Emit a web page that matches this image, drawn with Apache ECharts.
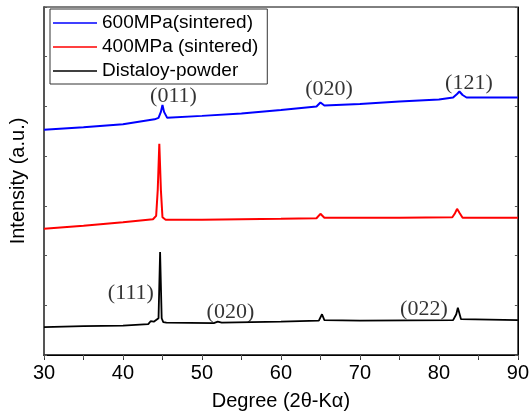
<!DOCTYPE html>
<html>
<head>
<meta charset="utf-8">
<script src="https://cdn.jsdelivr.net/npm/echarts@6/dist/echarts.min.js"></script>
<style>
	html, body { margin: 0; padding: 0; background: #fff; }
	#chart { width: 532px; height: 418px; }
</style>
</head>
<body>
<div id="chart"></div>
<script>
// 2θ (deg), intensity (a.u., offset)
var sintered600 = [
	[30, 4.53], [35, 4.58], [40, 4.64], [44.0, 4.74], [44.5, 4.77], [44.8, 4.89], [45.0, 5.03],
	[45.2, 4.89], [45.6, 4.77], [50, 4.81], [55, 4.86], [60, 4.93], [64.5, 5.00], [65.0, 5.08],
	[65.5, 5.02], [70, 5.05], [75, 5.10], [80, 5.14], [81.8, 5.18], [82.3, 5.25], [82.6, 5.30],
	[83.0, 5.23], [83.5, 5.18], [86, 5.18], [90, 5.18]
];
var sintered400 = [
	[30, 2.54], [35, 2.60], [40, 2.67], [43.8, 2.73], [44.2, 2.80], [44.4, 3.32], [44.6, 4.25],
	[44.8, 3.32], [45.0, 2.77], [45.4, 2.72], [50, 2.72], [55, 2.73], [60, 2.74], [64.5, 2.75],
	[65.0, 2.84], [65.5, 2.76], [70, 2.76], [75, 2.76], [81.7, 2.77], [82.0, 2.84], [82.3, 2.94],
	[82.6, 2.86], [83.0, 2.76], [90, 2.76]
];
var powder = [
	[30, 0.56], [35, 0.58], [40, 0.59], [43.2, 0.62], [43.5, 0.68], [43.9, 0.67], [44.5, 0.74],
	[44.7, 2.07], [44.9, 0.74], [45.1, 0.66], [45.5, 0.65], [51.5, 0.64], [52.0, 0.67], [52.5, 0.65],
	[60, 0.67], [64.8, 0.69], [65.2, 0.82], [65.5, 0.70], [70, 0.69], [81.8, 0.70], [82.2, 0.82],
	[82.4, 0.95], [82.8, 0.72], [90, 0.70]
];
var seriesNames = ['600MPa(sintered)', '400MPa (sintered)', 'Distaloy-powder'];
var seriesColors = ['#0000ff', '#ff0000', '#000000'];
// peak labels: [2θ, intensity, text]
var peakLabels = [
	[46.4, 5.21, '(011)'], [66.1, 5.35, '(020)'], [83.8, 5.47, '(121)'],
	[41.0, 1.25, '(111)'], [53.6, 0.87, '(020)'], [78.1, 0.93, '(022)']
];

var lineSeries = function (name, data, color, width) {
	return {
		name: name,
		type: 'line',
		data: data,
		color: color,
		showSymbol: false,
		smooth: false,
		lineStyle: { color: color, width: width },
		z: 3
	};
};

var chart = echarts.init(document.getElementById('chart'));
var option = {
	backgroundColor: '#fff',
	animation: false,
	grid: { left: 44, right: 13, top: 7, bottom: 63, show: true, borderColor: '#000', borderWidth: 1 },
	legend: {
		orient: 'vertical',
		left: 50,
		top: 9,
		padding: [4, 9, 3, 3],
		itemGap: 4,
		itemWidth: 44,
		itemHeight: 1.5,
		icon: 'rect',
		borderColor: '#333',
		borderWidth: 1,
		textStyle: { fontFamily: 'Liberation Sans, Arial', fontSize: 19, color: '#000', lineHeight: 20 },
		data: seriesNames
	},
	xAxis: [{
		type: 'value',
		min: 30,
		max: 90,
		interval: 10,
		name: 'Degree (2θ-Kα)',
		nameLocation: 'middle',
		nameGap: 36,
		nameTextStyle: { fontFamily: 'Liberation Sans, Arial', fontSize: 20, color: '#000' },
		axisLine: { lineStyle: { color: '#333', width: 1.5 } },
		axisTick: { length: 5, lineStyle: { color: '#333' } },
		minorTick: { show: true, splitNumber: 2, length: 5, lineStyle: { color: '#333' } },
		axisLabel: { fontFamily: 'Liberation Sans, Arial', fontSize: 20, color: '#000', margin: 8 },
		splitLine: { show: false }
	}, {
		type: 'value',
		position: 'top',
		min: 30,
		max: 90,
		interval: 10,
		axisLine: { lineStyle: { color: '#000', width: 1 } },
		axisTick: { inside: true, length: 3, lineStyle: { color: '#555' } },
		minorTick: { show: true, splitNumber: 2, length: 3, lineStyle: { color: '#555' } },
		axisLabel: { show: false },
		splitLine: { show: false }
	}],
	yAxis: [{
		type: 'value',
		min: 0,
		max: 7,
		interval: 1,
		name: 'Intensity (a.u.)',
		nameLocation: 'middle',
		nameGap: 16,
		nameTextStyle: { fontFamily: 'Liberation Sans, Arial', fontSize: 20, color: '#000' },
		axisLine: { show: true, lineStyle: { color: '#555', width: 2 } },
		axisTick: { show: true, inside: true, length: 3, lineStyle: { color: '#555' } },
		axisLabel: { show: false },
		splitLine: { show: false }
	}, {
		type: 'value',
		position: 'right',
		min: 0,
		max: 7,
		interval: 1,
		axisLine: { show: true, lineStyle: { color: '#000', width: 1 } },
		axisTick: { show: true, inside: true, length: 3, lineStyle: { color: '#555' } },
		axisLabel: { show: false },
		splitLine: { show: false }
	}],
	series: [
		lineSeries(seriesNames[0], sintered600, seriesColors[0], 2),
		lineSeries(seriesNames[1], sintered400, seriesColors[1], 2),
		lineSeries(seriesNames[2], powder, seriesColors[2], 1.8),
		{
			name: 'peaks',
			type: 'scatter',
			symbolSize: 0,
			data: peakLabels.map(function (p) { return { value: [p[0], p[1]], name: p[2] }; }),
			label: {
				show: true,
				position: 'inside',
				formatter: '{b}',
				fontFamily: 'Liberation Serif, Times New Roman',
				fontSize: 22,
				color: '#000'
			},
			silent: true,
			z: 5
		}
	]
};
chart.setOption(option);
</script>
</body>
</html>
